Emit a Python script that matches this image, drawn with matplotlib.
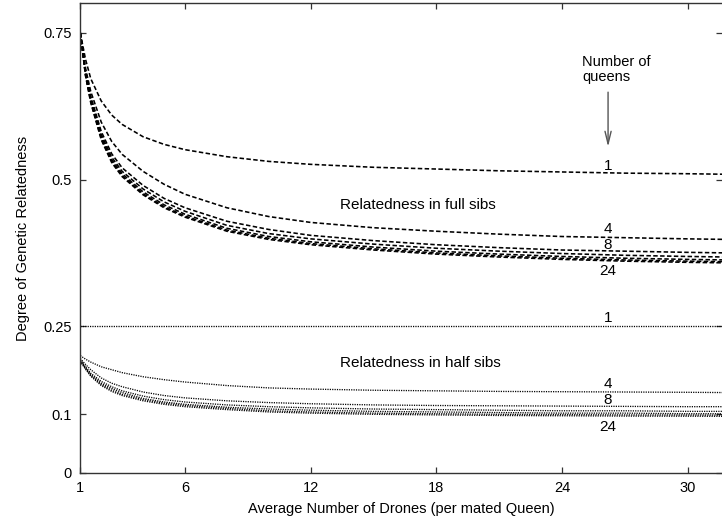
import matplotlib
matplotlib.use("Agg")
import matplotlib.pyplot as plt

plt.rcParams["font.family"] = ["Liberation Sans", "DejaVu Sans"]

# average number of drones per mated queen
drones = [1, 1.25, 1.5, 2, 2.5, 3, 4, 5, 6, 8, 10, 12, 15, 18, 21, 24, 27, 30, 32]
queens = [1, 4, 8, 12, 16, 20, 24]

# relatedness in full sibs, one list per number of queens
full_q1 = [0.750, 0.705, 0.672, 0.634, 0.610, 0.594, 0.573, 0.560, 0.551, 0.539,
           0.531, 0.526, 0.521, 0.518, 0.515, 0.513, 0.511, 0.510, 0.509]
full_q4 = [0.750, 0.690, 0.650, 0.598, 0.565, 0.543, 0.514, 0.492, 0.475, 0.452,
           0.437, 0.427, 0.418, 0.412, 0.407, 0.403, 0.401, 0.399, 0.398]
full_q8 = [0.750, 0.685, 0.642, 0.582, 0.544, 0.520, 0.490, 0.468, 0.452, 0.429,
           0.415, 0.405, 0.396, 0.389, 0.384, 0.380, 0.378, 0.376, 0.375]
full_q12 = [0.750, 0.682, 0.638, 0.577, 0.538, 0.514, 0.484, 0.462, 0.446, 0.422,
            0.408, 0.399, 0.390, 0.383, 0.378, 0.374, 0.371, 0.369, 0.368]
full_q16 = [0.750, 0.680, 0.635, 0.573, 0.534, 0.510, 0.479, 0.457, 0.441, 0.417,
            0.403, 0.394, 0.385, 0.378, 0.373, 0.369, 0.366, 0.364, 0.363]
full_q20 = [0.750, 0.678, 0.633, 0.570, 0.531, 0.507, 0.476, 0.454, 0.438, 0.414,
            0.400, 0.391, 0.382, 0.375, 0.370, 0.366, 0.363, 0.361, 0.360]
full_q24 = [0.750, 0.677, 0.631, 0.568, 0.529, 0.505, 0.474, 0.452, 0.436, 0.412,
            0.398, 0.389, 0.380, 0.373, 0.368, 0.364, 0.361, 0.359, 0.358]

# relatedness in half sibs
half_q1 = [0.25] * len(drones)
half_q4 = [0.200, 0.194, 0.189, 0.181, 0.176, 0.171, 0.164, 0.159, 0.155, 0.149,
           0.145, 0.143, 0.141, 0.140, 0.139, 0.1385, 0.138, 0.1375, 0.137]
half_q8 = [0.195, 0.185, 0.176, 0.162, 0.153, 0.147, 0.138, 0.132, 0.128, 0.123,
           0.120, 0.118, 0.116, 0.115, 0.1145, 0.114, 0.1135, 0.113, 0.113]
half_q12 = [0.193, 0.181, 0.170, 0.156, 0.147, 0.140, 0.131, 0.125, 0.121, 0.116,
            0.113, 0.111, 0.109, 0.108, 0.107, 0.106, 0.106, 0.105, 0.105]
half_q16 = [0.192, 0.179, 0.168, 0.153, 0.144, 0.137, 0.127, 0.121, 0.117, 0.112,
            0.109, 0.107, 0.105, 0.104, 0.103, 0.102, 0.102, 0.101, 0.101]
half_q20 = [0.191, 0.178, 0.166, 0.151, 0.141, 0.134, 0.125, 0.119, 0.115, 0.110,
            0.106, 0.104, 0.102, 0.101, 0.100, 0.0995, 0.099, 0.0988, 0.0985]
half_q24 = [0.190, 0.177, 0.165, 0.149, 0.139, 0.132, 0.123, 0.117, 0.113, 0.108,
            0.104, 0.102, 0.100, 0.099, 0.098, 0.0975, 0.097, 0.0968, 0.0965]

full_sibs = [full_q1, full_q4, full_q8, full_q12, full_q16, full_q20, full_q24]
half_sibs = [half_q1, half_q4, half_q8, half_q12, half_q16, half_q20, half_q24]

# curve labels at the right: (text, y)
full_labels = [("1", 0.523), ("4", 0.4154), ("8", 0.3886), ("24", 0.3443)]
half_labels = [("1", 0.2637), ("4", 0.1517), ("8", 0.1244), ("24", 0.079)]
label_x = 26.2

xticks = [1, 6, 12, 18, 24, 30]
yticks = [0, 0.1, 0.25, 0.5, 0.75]
ytick_labels = ["0", "0.1", "0.25", "0.5", "0.75"]

fig = plt.figure(figsize=(7.22, 5.22), dpi=100)
ax = fig.add_axes([0.1112, 0.0939, 0.8888, 0.9004])

for ys in full_sibs:
    ax.plot(drones, ys, color="black", lw=1.15, ls=(0, (2.8, 1.5)))
for ys in half_sibs:
    ax.plot(drones, ys, color="black", lw=0.95, ls=(0, (0.9, 0.9)))

for txt, y in full_labels + half_labels:
    ax.text(label_x, y, txt, ha="center", va="center", fontsize=11)

ax.text(13.4, 0.4568, "Relatedness in full sibs", ha="left", va="center", fontsize=11)
ax.text(13.4, 0.1875, "Relatedness in half sibs", ha="left", va="center", fontsize=11)
ax.text(24.96, 0.688, "Number of\nqueens", ha="left", va="center", fontsize=10.5,
        linespacing=1.05)
ax.annotate("", xy=(label_x, 0.556), xytext=(label_x, 0.649),
            arrowprops=dict(arrowstyle="->,head_length=0.9,head_width=0.22",
                            color="#555555", lw=1.0, shrinkA=0, shrinkB=0))

ax.set_xlim(1, 31.64)
ax.set_ylim(0, 0.801)
ax.set_xticks(xticks)
ax.set_yticks(yticks)
ax.set_yticklabels(ytick_labels)
ax.tick_params(direction="in", length=4.5, width=0.9, color="#333333",
               top=True, right=True, labelsize=10.5, pad=6)
for side in ("left", "bottom", "top"):
    ax.spines[side].set_color("#333333")
    ax.spines[side].set_linewidth(1.0)
ax.spines["right"].set_visible(False)

ax.set_xlabel("Average Number of Drones (per mated Queen)", fontsize=10.5, labelpad=5)
ax.set_ylabel("Degree of Genetic Relatedness", fontsize=10.5, labelpad=10)

fig.savefig("out.png", dpi=100)
